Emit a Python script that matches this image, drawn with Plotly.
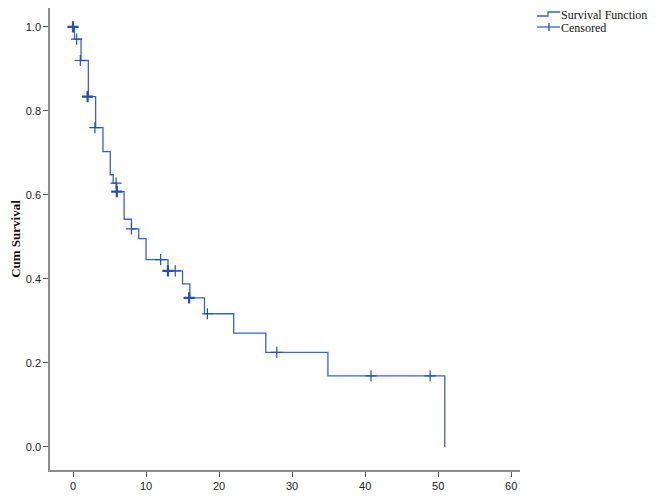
import plotly.graph_objects as go

# Kaplan-Meier step function (time, cumulative survival after the step)
step_time = [0, 0.2, 1.1, 2.1, 3.1, 4.1, 5.1, 5.5, 6.0, 7.0, 8.0, 9.0, 10.0,
             13.0, 15.0, 16.0, 18.0, 22.0, 26.4, 34.9, 50.9]
step_surv = [1.0, 0.971, 0.920, 0.834, 0.760, 0.703, 0.648, 0.628, 0.608, 0.542,
             0.519, 0.496, 0.446, 0.419, 0.388, 0.355, 0.317, 0.271, 0.225, 0.169, 0.0]

# censored observations
cens_time = [0, 0.5, 1.0, 2.0, 3.0, 5.9, 6.0, 8.0, 12.0, 13.0, 14.0, 15.9, 18.4,
             27.9, 40.8, 48.9]
cens_surv = [1.0, 0.971, 0.920, 0.834, 0.760, 0.628, 0.608, 0.519, 0.446, 0.419,
             0.419, 0.355, 0.317, 0.225, 0.169, 0.169]
cens_count = [2, 1, 1, 2, 1, 1, 2, 1, 1, 2, 1, 2, 1, 1, 1, 1]

legend_labels = ["Survival Function", "Censored"]
x_ticks = [0, 10, 20, 30, 40, 50, 60]
y_ticks = [0.0, 0.2, 0.4, 0.6, 0.8, 1.0]

line_col = "#3863c9"
mark_col = "#2150b8"

fig = go.Figure()
fig.add_trace(go.Scatter(
    x=step_time, y=step_surv, mode="lines", line_shape="hv",
    line=dict(color=line_col, width=1.3), name=legend_labels[0],
    showlegend=False,
))
fig.add_trace(go.Scatter(
    x=cens_time, y=cens_surv, mode="markers",
    marker=dict(symbol="cross-thin", size=8, color=mark_col,
                line=dict(color=mark_col,
                          width=[1.2 if c == 1 else 2.2 for c in cens_count])),
    name=legend_labels[1], showlegend=False,
))

axis_common = dict(
    showline=True, linecolor="#8c8c8c", linewidth=1.6,
    ticks="outside", tickcolor="#555", ticklen=5, tickwidth=1.2,
    showgrid=False, zeroline=False, automargin=False,
    tickfont=dict(family="Liberation Sans, Arial", size=11, color="#222"),
)

# page body has an 8px margin, so the figure is 8px smaller than the window
W, H = 653, 488
ML, MR, MT, MB = 42, 141, 0, 26
PW, PH = W - ML - MR, H - MT - MB


def px(sx):  # window pixel -> paper x
    return (sx - 8 - ML) / PW


def py(sy):  # window pixel -> paper y
    return 1 - (sy - 8 - MT) / PH


# hand-drawn SPSS style legend
step_icon = "M {},{} L {},{} L {},{} L {},{}".format(
    px(537), py(16), px(548), py(16), px(548), py(12), px(560), py(12))
fig.add_shape(type="path", path=step_icon, xref="paper", yref="paper",
              line=dict(color=line_col, width=1.3))
fig.add_shape(type="line", xref="paper", yref="paper", x0=px(537), x1=px(560),
              y0=py(27), y1=py(27), line=dict(color=line_col, width=1.3))
fig.add_shape(type="line", xref="paper", yref="paper", x0=px(549), x1=px(549),
              y0=py(23), y1=py(31), line=dict(color=mark_col, width=1.3))
for lab, sy in zip(legend_labels, [14.5, 27.5]):
    fig.add_annotation(text=lab, xref="paper", yref="paper", x=px(560), y=py(sy),
                       xanchor="left", yanchor="middle", showarrow=False,
                       borderpad=0,
                       font=dict(family="Liberation Serif, Times New Roman", size=12, color="#111"))

fig.update_layout(
    width=W, height=H,
    margin=dict(l=ML, r=MR, t=MT, b=MB, autoexpand=False),
    plot_bgcolor="white", paper_bgcolor="white",
    showlegend=False,
    xaxis=dict(range=[-3.15, 61.2], tickvals=x_ticks, **axis_common),
    yaxis=dict(range=[-0.055, 1.045], tickvals=y_ticks, tickformat=".1f",
               title=dict(text="<b>Cum Survival</b>", standoff=6,
                          font=dict(family="Liberation Serif, Times New Roman", size=13, color="#111")),
               **axis_common),
)

fig.write_html("out.html")
